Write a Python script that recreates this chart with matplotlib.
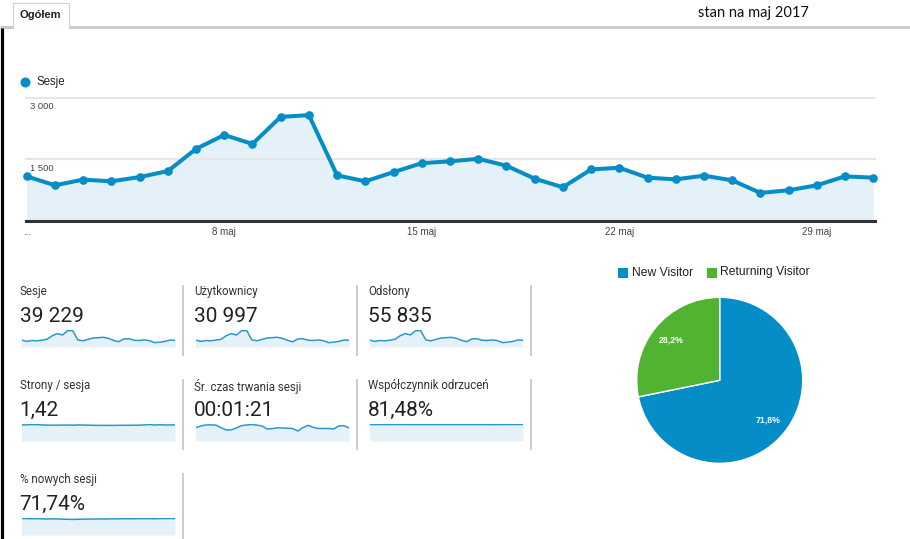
import matplotlib
matplotlib.use('Agg')
import matplotlib.pyplot as plt
from matplotlib.patches import Rectangle

W, H = 910, 539

# dane (maj 2017)
days = list(range(1, 32))
sessions = [1089, 871, 1009, 968, 1072, 1217, 1759, 2098, 1880, 2540, 2582,
            1113, 968, 1193, 1411, 1455, 1517, 1348, 1033, 823, 1258, 1299,
            1057, 1016, 1106, 992, 685, 750, 871, 1089, 1057]
tick_days = [1, 8, 15, 22, 29]
tick_labels = ['...', '8 maj', '15 maj', '22 maj', '29 maj']
y_ticks = [1500, 3000]
y_tick_labels = ['1 500', '3 000']

tile_labels = ['Sesje', 'Użytkownicy', 'Odsłony', 'Strony / sesja',
               'Śr. czas trwania sesji', 'Współczynnik odrzuceń', '% nowych sesji']
tile_values = ['39 229', '30 997', '55 835', '1,42', '00:01:21', '81,48%', '71,74%']

users = [860, 690, 800, 770, 850, 960, 1390, 1650, 1480, 2000, 2040, 880, 770,
         940, 1110, 1150, 1200, 1060, 820, 650, 990, 1030, 840, 800, 870, 790,
         540, 600, 690, 860, 840]
pageviews = [1550, 1240, 1430, 1370, 1520, 1730, 2500, 2980, 2670, 3600, 3660,
             1580, 1370, 1690, 2000, 2070, 2150, 1910, 1470, 1170, 1790, 1840,
             1500, 1440, 1570, 1410, 970, 1070, 1240, 1550, 1500]
pages_per_session = [1.43, 1.44, 1.46, 1.46, 1.43, 1.41, 1.41, 1.41, 1.42, 1.42,
                     1.41, 1.43, 1.42, 1.41, 1.40, 1.39, 1.39, 1.39, 1.39, 1.40,
                     1.40, 1.40, 1.41, 1.41, 1.43, 1.47, 1.42, 1.45, 1.43, 1.43, 1.43]
avg_duration = [79, 90, 96, 97, 95, 80, 66, 67, 78, 92, 96, 99, 95, 90, 72, 74,
                79, 78, 76, 75, 60, 80, 94, 82, 75, 75, 75, 72, 90, 92, 79]
bounce_rate = [81.6, 81.5, 81.4, 81.5, 81.5, 81.6, 81.7, 81.6, 81.5, 81.4, 81.4,
               81.5, 81.5, 81.6, 81.6, 81.5, 81.5, 81.4, 81.4, 81.5, 81.5, 81.6,
               81.5, 81.3, 81.3, 81.4, 81.5, 81.6, 81.7, 81.8, 81.8]
new_sessions = [73.5, 73.0, 72.5, 73.0, 72.0, 71.0, 72.0, 71.5, 70.5, 70.0, 69.5,
                70.0, 70.5, 71.0, 71.0, 71.5, 71.0, 71.5, 72.0, 72.0, 72.5, 72.0,
                72.5, 73.0, 72.5, 73.0, 72.0, 73.0, 73.0, 73.5, 73.0]
spark_series = [sessions, users, pageviews, pages_per_session,
                avg_duration, bounce_rate, new_sessions]

pie_labels = ['New Visitor', 'Returning Visitor']
pie_shares = [71.8, 28.2]

BLUE = '#058dc7'
GREEN = '#50b432'
FILL = '#e5f1f9'
SPARK = '#2b97cf'


def px_axes(fig, x0, y0, x1, y1):
    return fig.add_axes([x0 / W, 1 - y1 / H, (x1 - x0) / W, (y1 - y0) / H])


fig = plt.figure(figsize=(W / 100, H / 100), dpi=100)
fig.patch.set_facecolor('white')

# tlo w pikselach: zakladka, napisy, separatory
bg = fig.add_axes([0, 0, 1, 1])
bg.set_xlim(0, W)
bg.set_ylim(H, 0)
bg.axis('off')

bg.plot([0, W], [26.5, 26.5], color='#cccccc', lw=2.2, solid_capstyle='butt')
bg.add_patch(Rectangle((12.5, 2.5), 56, 26, facecolor='white', edgecolor='none', zorder=3))
bg.plot([12.5, 12.5, 68.5, 68.5], [28, 2.5, 2.5, 28], color='#d0d0d0', lw=0.8, zorder=4)
bg.text(40.5, 15.5, 'Ogółem', ha='center', va='center', fontsize=8, fontweight='bold',
        family='Liberation Sans', color='#222222', zorder=5)
bg.text(698, 12.5, 'stan na maj 2017', ha='left', va='center', fontsize=10.5,
        family='Lato', color='#111111')
bg.plot([1.5, 1.5], [28, H], color='black', lw=2.3, solid_capstyle='butt')

# legenda glownego wykresu
bg.plot([25], [81.5], marker='o', ms=6.2, color=BLUE, mec=BLUE)
bg.text(36.5, 81.5, 'Sesje', ha='left', va='center', fontsize=8.3,
        family='Liberation Sans', color='#222222')

# glowny wykres
ax = px_axes(fig, 26, 98, 875, 221)
ax.fill_between(days, sessions, 0, color=FILL, lw=0, zorder=1)
for v in y_ticks:
    ax.axhline(v, color='#e6e6e6', lw=1.5, zorder=2, clip_on=False)
ax.plot(days, sessions, color=BLUE, lw=2.9, marker='o', ms=5.2, mec=BLUE,
        zorder=4, clip_on=False)
ax.axhline(0, color='#333333', lw=2.2, zorder=5, clip_on=False)
ax.set_xlim(0.975, 31.06)
ax.set_ylim(0, 3000)
for s in ax.spines.values():
    s.set_visible(False)
ax.set_yticks([])
ax.set_xticks(tick_days, tick_labels)
ax.tick_params(axis='x', length=0, pad=4.5, labelsize=7, labelcolor='#444444')
for lab in ax.get_xticklabels():
    lab.set_family('Liberation Sans')
for v, lab in zip(y_ticks, y_tick_labels):
    ax.annotate(lab, xy=(0, v), xycoords=('axes fraction', 'data'),
                xytext=(3, -3), textcoords='offset points', ha='left', va='top',
                fontsize=6.8, family='Liberation Sans', color='#444444', zorder=6)
ax.patch.set_visible(False)

# kafelki z metrykami
for i, (lab, val, series) in enumerate(zip(tile_labels, tile_values, spark_series)):
    col, row = i % 3, i // 3
    dx, dy = col * 174, row * 94
    bg.text(20 + dx, 292 + dy, lab, ha='left', va='center', fontsize=8.3,
            family='Roboto', color='#333333')
    bg.text(19.5 + dx, 316 + dy, val, ha='left', va='center', fontsize=15,
            family='Roboto', color='#222222')
    bg.plot([183 + dx, 183 + dx], [285 + dy, min(356 + dy, H)], color='#cccccc',
            lw=1.4, solid_capstyle='butt')
    sp = px_axes(fig, 21.5 + dx, 330 + dy, 175 + dx, 347 + dy)
    sp.fill_between(days, series, 0, color=FILL, lw=0)
    sp.plot(days, series, color=SPARK, lw=1.1)
    sp.set_xlim(1, 31)
    sp.set_ylim(0, max(series) * 1.03)
    sp.axis('off')

# wykres kolowy
pax = px_axes(fig, 636.7, 297.3, 802.7, 463.3)
wedges, texts, autotexts = pax.pie(
    pie_shares, colors=[BLUE, GREEN], startangle=90, counterclock=False,
    autopct=lambda p: f'{p:.1f}%'.replace('.', ','), pctdistance=0.76,
    wedgeprops=dict(edgecolor='white', linewidth=1))
for t in autotexts:
    t.set_color('white')
    t.set_fontsize(6.3)
    t.set_fontweight('bold')
    t.set_family('Liberation Sans')
pax.set_xlim(-1, 1)
pax.set_ylim(-1, 1)
pax.set_aspect('equal')

# legenda wykresu kolowego
for sq_x, txt_x, color, lab in zip([618, 706.5], [632, 720.5], [BLUE, GREEN], pie_labels):
    bg.add_patch(Rectangle((sq_x, 267.5), 10, 10, facecolor=color, edgecolor='none'))
    bg.text(txt_x, 272.5, lab, ha='left', va='center', fontsize=8.7,
            family='Liberation Sans', color='#222222')

fig.savefig('out.png', dpi=100, facecolor='white')
